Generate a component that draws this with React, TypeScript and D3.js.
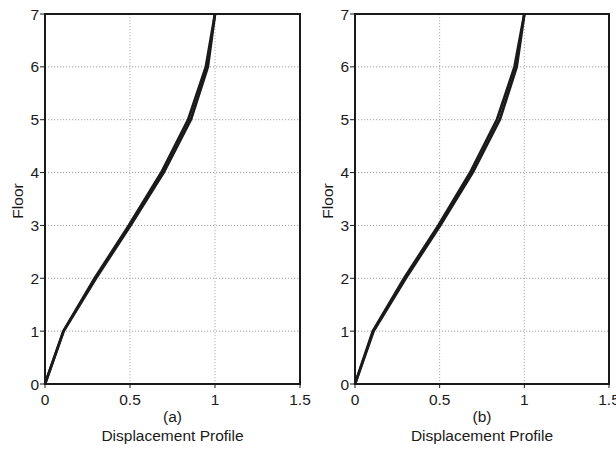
import * as d3 from 'd3';

const floors = [0, 1, 2, 3, 4, 5, 6, 7];
// two near-identical profiles per panel (drawn as a thick band)
const profileA1 = [0, 0.108, 0.292, 0.493, 0.684, 0.842, 0.946, 1.0];
const profileA2 = [0, 0.11, 0.30, 0.503, 0.698, 0.858, 0.958, 1.0];
const profileB1 = [0, 0.105, 0.29, 0.492, 0.68, 0.838, 0.942, 1.0];
const profileB2 = [0, 0.11, 0.30, 0.503, 0.695, 0.855, 0.955, 1.0];
const xTicks = [0, 0.5, 1, 1.5];
const yTicks = [0, 1, 2, 3, 4, 5, 6, 7];
const panels = [
  { label: '(a)', left: 45, right: 300, series: [profileA1, profileA2] },
  { label: '(b)', left: 355, right: 609, series: [profileB1, profileB2] },
];

const top = 14;
const bottom = 384;
const font = 'Liberation Sans, Arial, sans-serif';
const fs = 15.5;

function Panel({ label, left, right, series }: { label: string; left: number; right: number; series: number[][] }) {
  const x = d3.scaleLinear([0, 1.5], [left, right]);
  const y = d3.scaleLinear([0, 7], [bottom, top]);
  const line = d3.line<number>((d) => x(d), (_, i) => y(floors[i]));
  const cx = (left + right) / 2;
  return (
    <g>
      {xTicks.slice(1, -1).map((t) => (
        <line key={'gx' + t} x1={x(t)} x2={x(t)} y1={top} y2={bottom} stroke="#999" strokeWidth={0.8} strokeDasharray="1.2,1.8" />
      ))}
      {yTicks.slice(1, -1).map((t) => (
        <line key={'gy' + t} x1={left} x2={right} y1={y(t)} y2={y(t)} stroke="#888" strokeWidth={0.8} strokeDasharray="1.2,1.8" />
      ))}
      {series.map((s, i) => (
        <path key={i} d={line(s) ?? ''} fill="none" stroke="#1a1a1a" strokeWidth={2.7} strokeLinejoin="round" />
      ))}
      <rect x={left} y={top} width={right - left} height={bottom - top} fill="none" stroke="#1a1a1a" strokeWidth={2} />
      {xTicks.map((t) => (
        <g key={'tx' + t}>
          <line x1={x(t)} x2={x(t)} y1={bottom} y2={bottom + 4} stroke="#1a1a1a" strokeWidth={1} />
          <text x={x(t)} y={bottom + 21} fontSize={fs} textAnchor="middle" fontFamily={font} fill="#1a1a1a">
            {t}
          </text>
        </g>
      ))}
      {yTicks.map((t) => (
        <g key={'ty' + t}>
          <line x1={left - 5} x2={left} y1={y(t)} y2={y(t)} stroke="#1a1a1a" strokeWidth={1} />
          <text x={left - 6} y={y(t) + 5.5} fontSize={fs} textAnchor="end" fontFamily={font} fill="#1a1a1a">
            {t}
          </text>
        </g>
      ))}
      <text x={cx} y={bottom + 38} fontSize={fs} textAnchor="middle" fontFamily={font} fill="#1a1a1a">
        {label}
      </text>
      <text x={cx} y={bottom + 57} fontSize={fs} textAnchor="middle" fontFamily={font} fill="#1a1a1a">
        Displacement Profile
      </text>
      <text
        transform={`translate(${left - 22},${(top + bottom) / 2 + 2}) rotate(-90)`}
        fontSize={fs}
        textAnchor="middle"
        fontFamily={font}
        fill="#1a1a1a"
      >
        Floor
      </text>
    </g>
  );
}

export default function App() {
  return (
    <svg width={616} height={451} style={{ position: 'absolute', left: 0, top: 0, background: '#fff' }}>
      {panels.map((p) => (
        <Panel key={p.label} {...p} />
      ))}
    </svg>
  );
}
